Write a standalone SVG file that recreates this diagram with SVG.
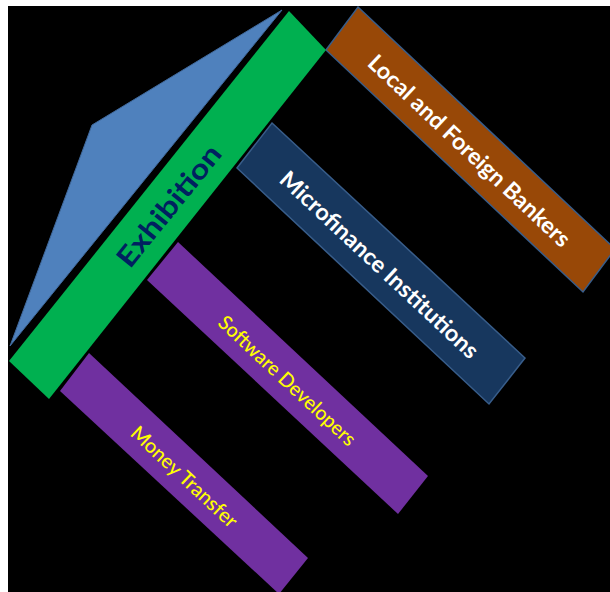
<svg xmlns="http://www.w3.org/2000/svg" width="610" height="592" viewBox="0 0 610 592">
  <style>
    .lbl { font-family: Lato, "Open Sans", "Liberation Sans", sans-serif; text-anchor: middle; dominant-baseline: central; }
    .white { fill: #FFFFFF; font-weight: bold; font-size: 23px; }
    .yellow { fill: #FFFF00; font-size: 20px; font-weight: 500; }
    .outl { stroke: #385D8A; stroke-width: 1.5; }
  </style>
  <rect x="0" y="0" width="610" height="592" fill="#FFFFFF"/>
  <rect x="8" y="6" width="602" height="586" fill="#000000"/>

  <g id="roof">
    <polygon points="282,10 92,125 10,346" fill="#4F81BD" stroke="#40699C" stroke-width="1"/>
  </g>

  <g id="bankers">
    <polygon class="outl" points="358,7 615,249 583,292 326,50" fill="#984807"/>
    <text class="lbl white" transform="translate(470,150) rotate(43.3)" textLength="268" lengthAdjust="spacingAndGlyphs">Local and Foreign Bankers</text>
  </g>

  <g id="microfinance">
    <polygon class="outl" points="272,123 525,358 489,404 237,168" fill="#17375E"/>
    <text class="lbl white" transform="translate(380,264) rotate(43)" textLength="262" lengthAdjust="spacingAndGlyphs">Microfinance Institutions</text>
  </g>

  <g id="software">
    <polygon points="178,242 428,476 398,514 147,280" fill="#7030A0"/>
    <text class="lbl yellow" transform="translate(288,380) rotate(43.1)" textLength="180" lengthAdjust="spacingAndGlyphs">Software Developers</text>
  </g>

  <g id="money">
    <polygon points="89,353 308,558 279,594 60,391" fill="#7030A0"/>
    <text class="lbl yellow" transform="translate(185,476) rotate(43.1)" textLength="138" lengthAdjust="spacingAndGlyphs">Money Transfer</text>
  </g>

  <g id="exhibition">
    <polygon points="289,11 326,50 49,399 9,361" fill="#00B050"/>
    <text class="lbl" transform="translate(168,205) rotate(-51)" fill="#002060" font-weight="bold" font-size="28" textLength="148" lengthAdjust="spacingAndGlyphs">Exhibition</text>
  </g>

  <g id="connectors"></g>
</svg>
